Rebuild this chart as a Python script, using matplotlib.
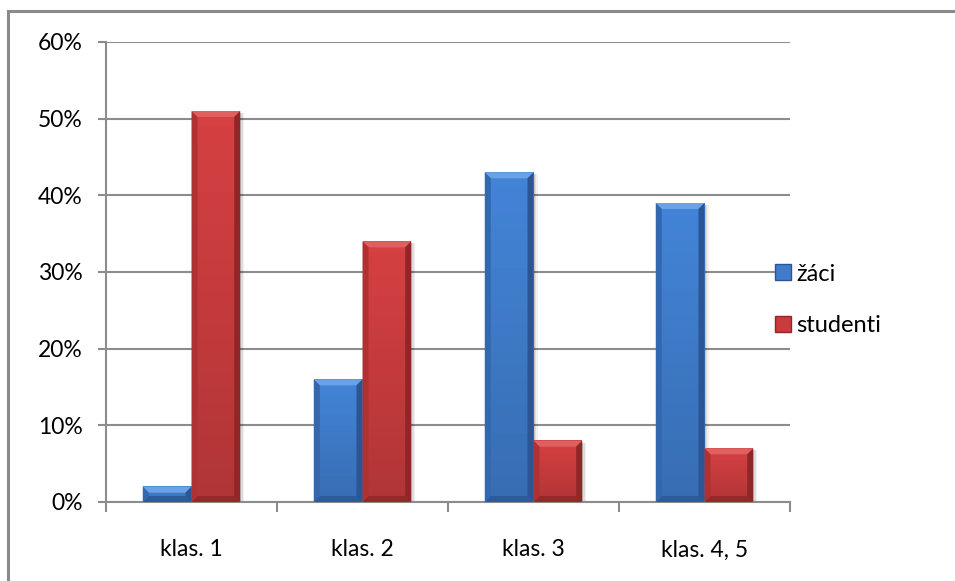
import matplotlib
matplotlib.use("Agg")
import matplotlib.pyplot as plt
import numpy as np
from matplotlib.patches import Rectangle, Polygon
from matplotlib.lines import Line2D
from matplotlib.ticker import FuncFormatter

categories = ["klas. 1", "klas. 2", "klas. 3", "klas. 4, 5"]
zaci = [2, 16, 43, 39]
studenti = [51, 34, 8, 7]
series_names = ["žáci", "studenti"]
yticks = [0, 10, 20, 30, 40, 50, 60]

plt.rcParams['font.family'] = ['Lato', 'DejaVu Sans']

W, H = 955, 581
fig = plt.figure(figsize=(W / 100, H / 100), dpi=100)
fig.patch.set_facecolor("white")

# outer chart frame (top and left edges visible)
fig.add_artist(Line2D([8 / W, 8 / W], [0, 1 - 11 / H], transform=fig.transFigure,
                      color="#8a8a8a", lw=2.2))
fig.add_artist(Line2D([8 / W, 1], [1 - 11 / H, 1 - 11 / H], transform=fig.transFigure,
                      color="#8a8a8a", lw=2.2))

ax = fig.add_axes([106 / W, 1 - 502 / H, (790 - 106) / W, (502 - 42) / H])
ax.set_xlim(-0.5, len(categories) - 0.5)
ax.set_ylim(0, 60)

FS = 16.5
grid_col = "#8c8c8c"
for s in ["top", "right"]:
    ax.spines[s].set_visible(False)
for s in ["left", "bottom"]:
    ax.spines[s].set_color(grid_col)
    ax.spines[s].set_linewidth(1.5)
ax.set_yticks(yticks)
ax.yaxis.set_major_formatter(FuncFormatter(lambda v, p: f"{int(v)}%"))
ax.yaxis.grid(True, color=grid_col, lw=1.5)
ax.set_axisbelow(True)
ax.tick_params(axis="y", length=6, width=1.5, color=grid_col, labelsize=FS, pad=11,
               labelcolor="black")

x = np.arange(len(categories))
ax.set_xticks(x)
ax.set_xticklabels(categories)
ax.set_xticks(np.arange(-0.5, len(categories)), minor=True)
ax.tick_params(axis="x", which="major", length=0, labelsize=FS, pad=27)
ax.tick_params(axis="x", which="minor", length=7, width=1.5, color=grid_col)

bw = 0.285
colors = {
    "žáci": dict(face="#3f7ccb", top="#6aa2e6", bot="#2c5a9c", side="#3368b0", edge="#2b5594"),
    "studenti": dict(face="#c93c3e", top="#e0605f", bot="#962828", side="#ae3233", edge="#8f2627"),
}

to_px = ax.transData
to_data = ax.transData.inverted()


def bevel_bar(rect, c):
    (x0, y0), (x1, y1) = to_px.transform([(rect.get_x(), rect.get_y()),
                                          (rect.get_x() + rect.get_width(),
                                           rect.get_y() + rect.get_height())])
    b = min(6.0, (y1 - y0) / 2.5, (x1 - x0) / 4)

    def poly(pts, col, z=3, alpha=1.0):
        ax.add_patch(Polygon(to_data.transform(pts), closed=True, facecolor=col,
                             edgecolor="none", zorder=z, alpha=alpha))
    # soft shadow at the right
    for k, a in [(4, 0.06), (2.5, 0.08), (1.2, 0.1)]:
        poly([(x1, y0), (x1 + k, y0), (x1 + k, y1 - 2), (x1, y1 - 2)], "#000000", z=1.5, alpha=a)
    # vertical gradient over the body
    n = 24
    fc = np.array(matplotlib.colors.to_rgb(c["face"]))
    for i in range(n):
        ya = y0 + (y1 - y0) * i / n
        yb = y0 + (y1 - y0) * (i + 1) / n
        t = i / (n - 1)
        col = np.clip(fc * (0.88 + 0.18 * t), 0, 1)
        poly([(x0, ya), (x1, ya), (x1, yb + 0.5), (x0, yb + 0.5)], col, z=2.5)
    # bevel edges
    poly([(x0, y1), (x1, y1), (x1 - b, y1 - b), (x0 + b, y1 - b)], c["top"])
    poly([(x0, y0), (x1, y0), (x1 - b, y0 + b), (x0 + b, y0 + b)], c["bot"])
    poly([(x0, y0), (x0 + b, y0 + b), (x0 + b, y1 - b), (x0, y1)], c["side"])
    poly([(x1, y0), (x1 - b, y0 + b), (x1 - b, y1 - b), (x1, y1)], c["edge"])


for vals, name, off in [(zaci, series_names[0], -bw / 2), (studenti, series_names[1], bw / 2)]:
    bars = ax.bar(x + off, vals, width=bw, color=colors[name]["face"], zorder=2, label=name)
    for r in bars:
        bevel_bar(r, colors[name])

handles = [Rectangle((0, 0), 1, 1, facecolor=colors[n]["face"], edgecolor=colors[n]["edge"], lw=1)
           for n in series_names]
leg = fig.legend(handles, series_names, loc="center left",
                 bbox_to_anchor=(754 / W, 1 - 300 / H), frameon=False,
                 handlelength=0.65, handleheight=0.65, handletextpad=0.25,
                 labelspacing=1.3, fontsize=FS + 0.5)

fig.savefig("out.png", dpi=100, facecolor="white")
